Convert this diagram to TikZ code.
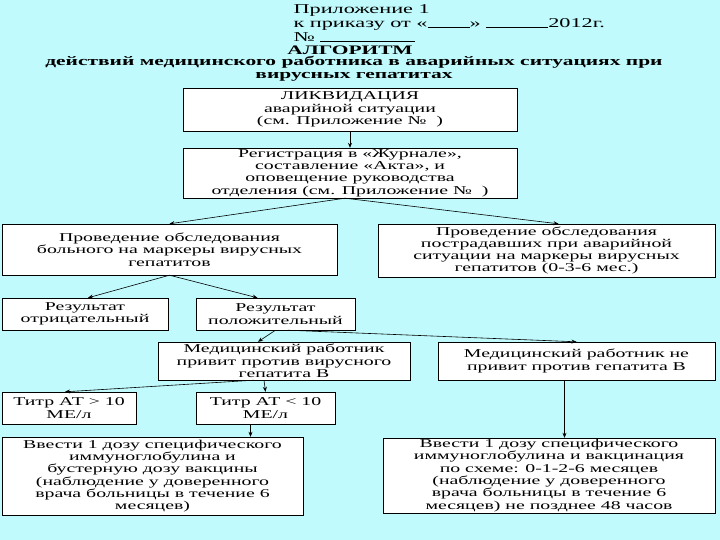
\documentclass[tikz,border=0pt]{standalone}
\usepackage{fontspec}
\setmainfont[FakeStretch=1.65]{Liberation Serif}
\usetikzlibrary{arrows.meta,positioning,calc}
\definecolor{bgcyan}{RGB}{192,250,252}

\begin{document}
\begin{tikzpicture}[
    x=1pt, y=-1pt,
    >={Stealth[length=5pt,width=4pt]},
    block/.style={draw, fill=white, rectangle, inner sep=1pt, align=center,
        font=\fontsize{12}{12.3}\selectfont},
    head/.style={align=center, font=\bfseries\fontsize{13}{13}\selectfont},
    link/.style={->, semithick}
]

\fill[bgcyan] (0,0) rectangle (720,540);

% header
\node[align=left, anchor=north west, font=\fontsize{13.5}{14}\selectfont] (appendix) at (290,1) {
  Приложение 1\\
  к приказу от «\rule{42pt}{0.5pt}» \rule{62pt}{0.5pt}2012г.\\
  №~\rule{95pt}{0.5pt}
};
\node[head, font=\bfseries\fontsize{13}{13}\selectfont] (title) at (350,50) {АЛГОРИТМ};
\node[head] (subtitle) at (354,69) {действий медицинского работника в аварийных ситуациях при\\
  вирусных гепатитах};

% boxes
\node[block, minimum width=334pt, minimum height=43pt] (likv) at (350,109.5) {
  ЛИКВИДАЦИЯ\\ аварийной ситуации\\ (см. Приложение №~~)};
\node[block, minimum width=334pt, minimum height=50pt] (reg) at (350,173) {
  Регистрация в «Журнале»,\\ составление «Акта», и\\ оповещение руководства\\
  отделения (см. Приложение №~~)};
\node[block, minimum width=335pt, minimum height=51pt] (examPatient) at (169.5,249.5) {
  Проведение обследования\\ больного на маркеры вирусных\\ гепатитов};
\node[block, minimum width=337pt, minimum height=53pt] (examVictims) at (546.5,250.5) {
  Проведение обследования\\ пострадавших при аварийной\\ ситуации на маркеры вирусных\\
  гепатитов (0-3-6 мес.)};
\node[block, minimum width=166pt, minimum height=32pt] (resNeg) at (85,314) {
  Результат\\ отрицательный};
\node[block, minimum width=159pt, minimum height=32pt] (resPos) at (275.5,314) {
  Результат\\ положительный};
\node[block, minimum width=252pt, minimum height=38pt] (vacc) at (284,361) {
  Медицинский работник\\ привит против вирусного\\ гепатита В};
\node[block, minimum width=277pt, minimum height=38pt] (notVacc) at (576.5,361) {
  Медицинский работник не\\ привит против гепатита В};
\node[block, minimum width=134pt, minimum height=32pt] (titerHigh) at (69,408) {
  Титр АТ > 10\\ МЕ/л};
\node[block, minimum width=139pt, minimum height=32pt] (titerLow) at (265.5,408) {
  Титр АТ < 10\\ МЕ/л};
\node[block, minimum width=301pt, minimum height=78pt] (doseBooster) at (152.5,476) {
  Ввести 1 дозу специфического\\ иммуноглобулина и\\ бустерную дозу вакцины\\
  (наблюдение у доверенного\\ врача больницы в течение 6\\ месяцев)};
\node[block, minimum width=332pt, minimum height=75pt] (doseScheme) at (549,475.5) {
  Ввести 1 дозу специфического\\ иммуноглобулина и вакцинация\\ по схеме: 0-1-2-6 месяцев\\
  (наблюдение у доверенного\\ врача больницы в течение 6\\ месяцев) не позднее 48 часов};

% connectors
\draw[link] (likv) -- (reg);
\draw[link] ([xshift=-5pt]reg.south) -- (examPatient.north);
\draw[link] ([xshift=-5pt]reg.south) -- ([xshift=12pt]examVictims.north);
\draw[link] (examPatient.south) -- ([xshift=3pt]resNeg.north);
\draw[link] (examPatient.south) -- ([xshift=-18pt]resPos.north);
\draw[link] (resPos.south) -- ([xshift=-26pt]vacc.north);
\draw[link] ([xshift=12pt]resPos.south) -- (notVacc.north);
\draw[link] ([xshift=-30pt]vacc.south) -- ([xshift=-4pt]titerHigh.north);
\draw[link] ([xshift=-20pt]vacc.south) -- (titerLow.north);
\draw[link] ([xshift=-15pt]titerLow.south) -- ([xshift=-15pt]titerLow.south |- doseBooster.north);
\draw[link] ([xshift=-12pt]notVacc.south) -- ([xshift=-12pt]notVacc.south |- doseScheme.north);

\end{tikzpicture}
\end{document}
